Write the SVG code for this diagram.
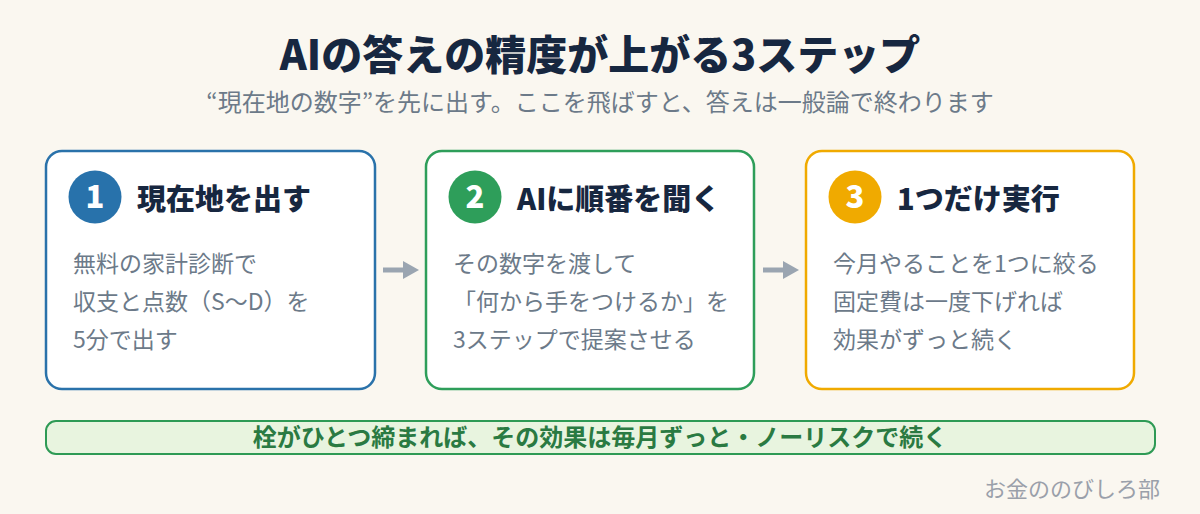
<svg xmlns="http://www.w3.org/2000/svg" width="1200" height="514" viewBox="0 0 1200 514">
<defs>
<style>
.title{font-family:"Noto Sans CJK JP","Noto Sans",sans-serif;font-weight:900;font-size:41px;fill:#172740;text-anchor:middle}
.sub{font-family:"Noto Sans CJK JP","Noto Sans",sans-serif;font-size:24px;fill:#6c7a89;text-anchor:middle}
.box{fill:#ffffff;stroke-width:2.5}
.head{font-family:"Noto Sans CJK JP","Noto Sans",sans-serif;font-weight:900;font-size:29px;fill:#172740}
.num{font-family:"Noto Sans CJK JP","Noto Sans",sans-serif;font-weight:900;font-size:31px;fill:#ffffff;text-anchor:middle}
.body{font-family:"Noto Sans CJK JP","Noto Sans",sans-serif;font-size:23px;fill:#6c7a89}
.conn{stroke:#9aa5b1;stroke-width:5;fill:none}
.banner{font-family:"Noto Sans CJK JP","Noto Sans",sans-serif;font-weight:700;font-size:24px;fill:#2a7a42;text-anchor:middle}
.foot{font-family:"Noto Sans CJK JP","Noto Sans",sans-serif;font-size:22px;fill:#9aa0aa;text-anchor:end}
</style>
<marker id="ah" markerWidth="16" markerHeight="18" refX="0" refY="9" orient="auto" markerUnits="userSpaceOnUse">
<path d="M0,0 L16,9 L0,18 Z" fill="#9aa5b1"/>
</marker>
</defs>
<rect width="1200" height="514" fill="#faf7f0"/>
<text class="title" x="600" y="70">AIの答えの精度が上がる3ステップ</text>
<text class="sub" x="600" y="111">“現在地の数字”を先に出す。ここを飛ばすと、答えは一般論で終わります</text>

<g id="connectors">
<line class="conn" x1="383" y1="270" x2="403" y2="270" marker-end="url(#ah)"/>
<line class="conn" x1="763" y1="270" x2="783" y2="270" marker-end="url(#ah)"/>
</g>

<g id="step1">
<rect class="box" x="46" y="151" width="329" height="238" rx="16" stroke="#2a72aa"/>
<circle cx="95" cy="197" r="26.5" fill="#2872ab"/>
<text class="num" x="95" y="208">1</text>
<text class="head" x="137" y="210">現在地を出す</text>
<text class="body" x="73" y="272">無料の家計診断で</text>
<text class="body" x="73" y="310">収支と点数（S〜D）を</text>
<text class="body" x="73" y="348">5分で出す</text>
</g>

<g id="step2">
<rect class="box" x="426" y="151" width="328" height="238" rx="16" stroke="#2e9e5a"/>
<circle cx="475" cy="197" r="26.5" fill="#2e9e5a"/>
<text class="num" x="475" y="208">2</text>
<text class="head" x="517" y="210">AIに順番を聞く</text>
<text class="body" x="453" y="272">その数字を渡して</text>
<text class="body" x="453" y="310">「何から手をつけるか」を</text>
<text class="body" x="453" y="348">3ステップで提案させる</text>
</g>

<g id="step3">
<rect class="box" x="806" y="151" width="328" height="238" rx="16" stroke="#f0aa00"/>
<circle cx="855" cy="197" r="26.5" fill="#f0aa00"/>
<text class="num" x="855" y="208">3</text>
<text class="head" x="897" y="210">1つだけ実行</text>
<text class="body" x="833" y="272">今月やることを1つに絞る</text>
<text class="body" x="833" y="310">固定費は一度下げれば</text>
<text class="body" x="833" y="348">効果がずっと続く</text>
</g>

<g id="banner">
<rect x="46" y="421" width="1109" height="33" rx="10" fill="#e8f4df" stroke="#2e9a55" stroke-width="2"/>
<text class="banner" x="600" y="446">栓がひとつ締まれば、その効果は毎月ずっと・ノーリスクで続く</text>
</g>

<text class="foot" x="1160" y="497">お金ののびしろ部</text>
</svg>
